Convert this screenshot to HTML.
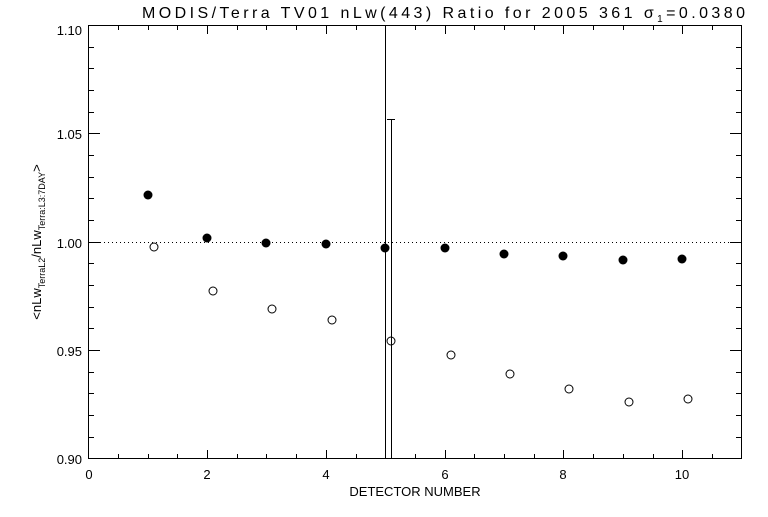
<!DOCTYPE html><html><head><style>body{margin:0;background:#fff}</style></head><body>
<svg width="768" height="512" xmlns="http://www.w3.org/2000/svg" font-family="Liberation Sans, sans-serif">
<rect width="768" height="512" fill="#fff"/>
<g stroke="#000" stroke-width="1" fill="none">
<rect x="88.5" y="25.5" width="653" height="433"/>
<path d="M88.5 458v-8M207.5 458v-8M326.5 458v-8M445.5 458v-8M563.5 458v-8M682.5 458v-8
M88.5 26v8M207.5 26v8M326.5 26v8M445.5 26v8M563.5 26v8M682.5 26v8
M118.5 458v-4M148.5 458v-4M177.5 458v-4M237.5 458v-4M266.5 458v-4M296.5 458v-4M356.5 458v-4M385.5 458v-4M415.5 458v-4M474.5 458v-4M504.5 458v-4M534.5 458v-4M593.5 458v-4M623.5 458v-4M653.5 458v-4M712.5 458v-4
M118.5 26v4M148.5 26v4M177.5 26v4M237.5 26v4M266.5 26v4M296.5 26v4M356.5 26v4M385.5 26v4M415.5 26v4M474.5 26v4M504.5 26v4M534.5 26v4M593.5 26v4M623.5 26v4M653.5 26v4M712.5 26v4"/>
<path d="M88 25.5h12M88 133.5h12M88 242.5h12M88 350.5h12M88 458.5h12
M742 25.5h-12M742 133.5h-12M742 242.5h-12M742 350.5h-12M742 458.5h-12
M88 47.5h6M88 68.5h6M88 90.5h6M88 112.5h6M88 155.5h6M88 177.5h6M88 198.5h6M88 220.5h6M88 263.5h6M88 285.5h6M88 307.5h6M88 328.5h6M88 372.5h6M88 393.5h6M88 415.5h6M88 437.5h6
M742 47.5h-6M742 68.5h-6M742 90.5h-6M742 112.5h-6M742 155.5h-6M742 177.5h-6M742 198.5h-6M742 220.5h-6M742 263.5h-6M742 285.5h-6M742 307.5h-6M742 328.5h-6M742 372.5h-6M742 393.5h-6M742 415.5h-6M742 437.5h-6"/>
<path d="M88 242.5H742" stroke-dasharray="1,3"/>
<path d="M385.5 25V458M391.5 119V458M387 119.5h8"/>
<circle cx="154" cy="247" r="4"/><circle cx="213" cy="291" r="4"/><circle cx="272" cy="309" r="4"/><circle cx="332" cy="320" r="4"/><circle cx="391" cy="341" r="4"/><circle cx="451" cy="355" r="4"/><circle cx="510" cy="374" r="4"/><circle cx="569" cy="389" r="4"/><circle cx="629" cy="402" r="4"/><circle cx="688" cy="399" r="4"/>
</g>
<g fill="#000">
<circle cx="148" cy="195" r="4.5"/><circle cx="207" cy="238" r="4.5"/><circle cx="266" cy="243" r="4.5"/><circle cx="326" cy="244" r="4.5"/><circle cx="385" cy="248" r="4.5"/><circle cx="445" cy="248" r="4.5"/><circle cx="504" cy="254" r="4.5"/><circle cx="563" cy="256" r="4.5"/><circle cx="623" cy="260" r="4.5"/><circle cx="682" cy="259" r="4.5"/>
</g>
<g font-size="13" fill="#000" text-anchor="middle">
<text x="89" y="479">0</text><text x="207" y="479">2</text><text x="326" y="479">4</text><text x="445" y="479">6</text><text x="563" y="479">8</text><text x="682" y="479">10</text>
<text x="415" y="496">DETECTOR NUMBER</text>
</g>
<text x="142" y="18" font-size="16" textLength="603" lengthAdjust="spacing">MODIS/Terra TV01 nLw(443) Ratio for 2005 361 σ<tspan font-size="10" dy="4">1</tspan><tspan dy="-4">=0.0380</tspan></text>
<g font-size="13" fill="#000" text-anchor="end">
<text x="82" y="35">1.10</text><text x="82" y="139">1.05</text><text x="82" y="248">1.00</text><text x="82" y="356">0.95</text><text x="82" y="464">0.90</text>
</g>
<text transform="translate(41,242) rotate(-90)" font-size="13" text-anchor="middle">&lt;nLw<tspan font-size="9" dy="4">TerraL2</tspan><tspan dy="-4">/nLw</tspan><tspan font-size="9" dy="4">Terra:L3:7DAY</tspan><tspan dy="-4">&gt;</tspan></text>
</svg>
</body></html>
